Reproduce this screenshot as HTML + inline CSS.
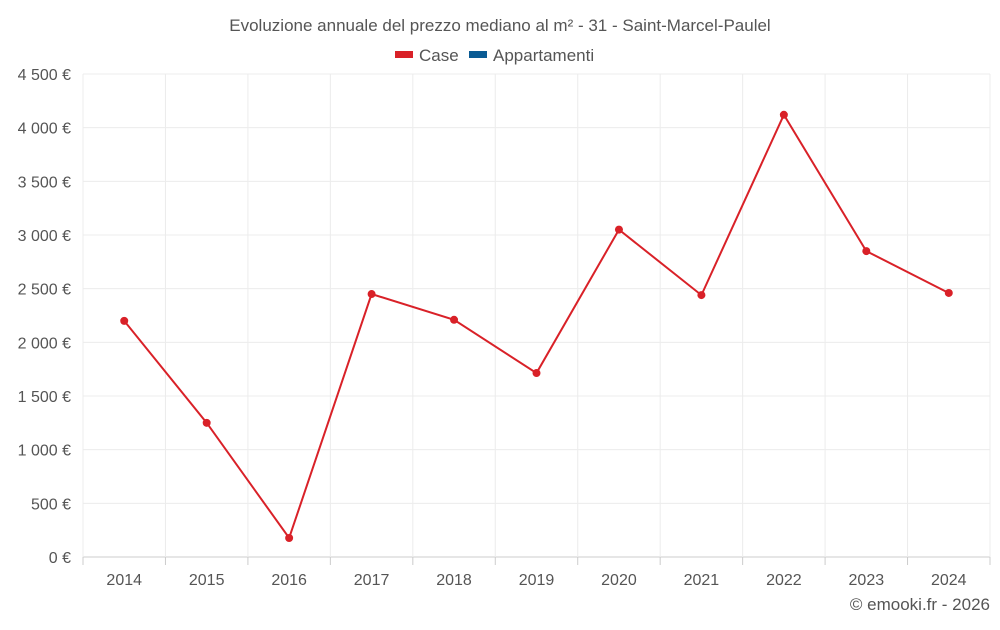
<!DOCTYPE html>
<html><head><meta charset="utf-8"><style>
body{margin:0;background:#fff;font-family:"Liberation Sans",sans-serif}
</style></head><body>
<svg id="c" width="1000" height="625" xmlns="http://www.w3.org/2000/svg">
<text x="500" y="31" text-anchor="middle" font-size="17" fill="#555">Evoluzione annuale del prezzo mediano al m² - 31 - Saint-Marcel-Paulel</text>
<g><rect x="395" y="51" width="18" height="7" fill="#d92128"/><text x="419" y="61" font-size="17" fill="#555">Case</text></g>
<g><rect x="469" y="51" width="18" height="7" fill="#0a5b94"/><text x="493" y="61" font-size="17" fill="#555">Appartamenti</text></g>
<g id="grid"></g><g id="axes"></g><g id="series"></g>
<text x="990" y="610" text-anchor="end" font-size="17" fill="#555">© emooki.fr - 2026</text>
</svg>
<script>
const years=["2014","2015","2016","2017","2018","2019","2020","2021","2022","2023","2024"];
const caseValues=[2200,1250,177,2450,2210,1714,3050,2440,4120,2850,2460];
const yTicks=[0,500,1000,1500,2000,2500,3000,3500,4000,4500];
const yLabels=["0 €","500 €","1 000 €","1 500 €","2 000 €","2 500 €","3 000 €","3 500 €","4 000 €","4 500 €"];
const NS="http://www.w3.org/2000/svg";
const L=83,R=990,T=74,B=557;
const bw=(R-L)/years.length;
const x=i=>L+bw*(i+0.5);
const y=v=>B-(v/4500)*(B-T);
function mk(tag,at,parent){const e=document.createElementNS(NS,tag);for(const k in at)e.setAttribute(k,at[k]);parent.appendChild(e);return e;}
const grid=document.getElementById('grid'),axes=document.getElementById('axes'),series=document.getElementById('series');
yTicks.forEach((t,i)=>{
 const g=mk('line',{x1:L,x2:R,y1:y(t),y2:y(t),stroke:i==0?'#ccc':'#ececec','stroke-width':1},grid);
 
 
 const tx=mk('text',{x:71,y:y(t)+6,'text-anchor':'end','font-size':16,fill:'#555'},axes);
 tx.textContent=yLabels[i];
 
 
});
for(let i=0;i<=years.length;i++){
 const g=mk('line',{x1:L+bw*i,x2:L+bw*i,y1:T,y2:B+(i==0?0:0),stroke:'#ececec','stroke-width':1},grid);
 
 
 const tk=mk('line',{x1:L+bw*i,x2:L+bw*i,y1:B,y2:B+8,stroke:'#ccc'},grid);
 
 
}
years.forEach((yr,i)=>{
 const tx=mk('text',{x:x(i),y:585,'text-anchor':'middle','font-size':16,fill:'#555'},axes);
 tx.textContent=yr;
 
 
});
const p=mk('polyline',{points:caseValues.map((v,i)=>x(i)+','+y(v)).join(' '),fill:'none',stroke:'#d92128','stroke-width':2},series);


caseValues.forEach((v,i)=>{
 const c=mk('circle',{cx:x(i),cy:y(v),r:4,fill:'#d92128'},series);
 
 
});
</script>
</body></html>
